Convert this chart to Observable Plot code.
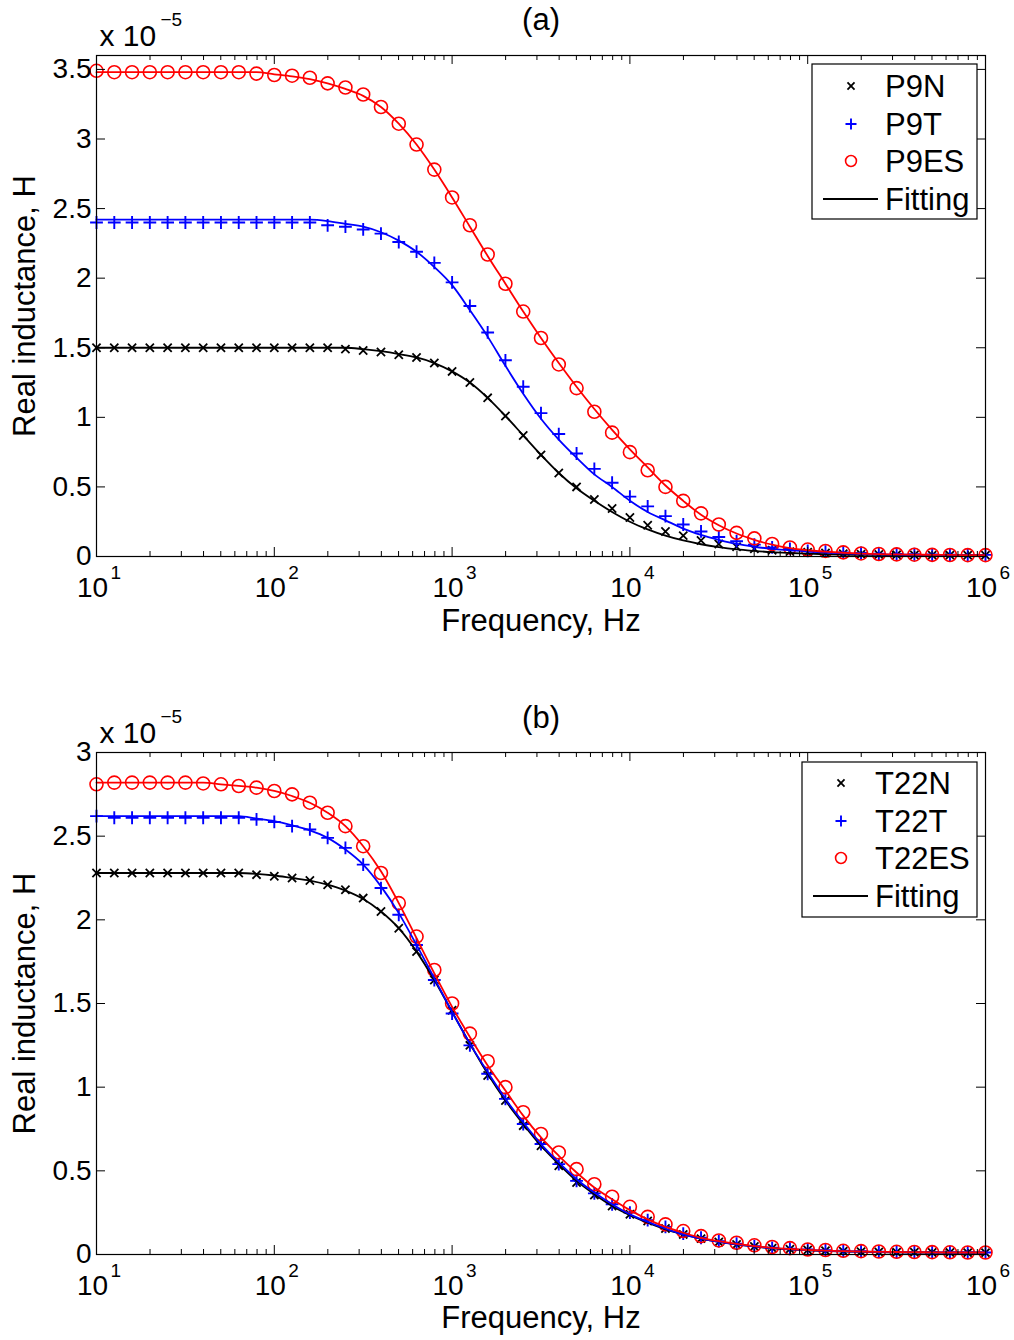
<!DOCTYPE html>
<html><head><meta charset="utf-8">
<script src="https://cdn.jsdelivr.net/npm/d3@7"></script>
<script src="https://cdn.jsdelivr.net/npm/@observablehq/plot@0.6"></script>
<style>body{margin:0;background:#fff;} #chart svg{display:block;}</style>
</head><body><div id="chart"></div>
<script>
// Frequencies (Hz), 10 points per decade
const freq = [10,12.59,15.85,19.95,25.12,31.62,39.81,50.12,63.10,79.43,
  100,125.9,158.5,199.5,251.2,316.2,398.1,501.2,631.0,794.3,
  1000,1259,1585,1995,2512,3162,3981,5012,6310,7943,
  10000,12589,15849,19953,25119,31623,39811,50119,63096,79433,
  100000,125893,158489,199526,251189,316228,398107,501187,630957,794328,
  1000000];

const xTicks = [10,100,1000,10000,100000,1000000];
const xExponents = ["1","2","3","4","5","6"];
const yTicksA = [0,0.5,1,1.5,2,2.5,3,3.5];
const yTicksB = [0,0.5,1,1.5,2,2.5,3];

// Panel (a), values in units of 1e-5 H
const p9nData = [1.50,1.50,1.50,1.50,1.50,1.50,1.50,1.50,1.50,1.50,1.50,1.50,1.50,
  1.50,1.49,1.48,1.47,1.45,1.43,1.39,1.33,1.25,1.14,1.01,0.87,0.73,0.60,0.50,0.41,0.345,
  0.28,0.225,0.18,0.15,0.115,0.09,0.07,0.055,0.045,0.035,0.03,0.025,0.02,0.016,0.014,0.012,
  0.011,0.010,0.010,0.009,0.009];
const p9nFit = [1.50,1.50,1.50,1.50,1.50,1.50,1.50,1.50,1.50,1.50,1.50,1.50,1.50,1.50,1.50,
  1.49,1.475,1.455,1.43,1.39,1.33,1.25,1.14,1.01,0.87,0.73,0.60,0.49,0.40,0.32,0.25,0.195,
  0.15,0.115,0.088,0.067,0.051,0.04,0.031,0.025,0.02,0.016,0.013,0.012,0.011,0.010,0.009,
  0.009,0.009,0.009,0.009];
const p9tData = [2.40,2.40,2.40,2.40,2.40,2.40,2.40,2.40,2.40,2.40,2.40,2.40,2.40,
  2.38,2.37,2.35,2.32,2.26,2.19,2.11,1.97,1.80,1.61,1.41,1.22,1.03,0.88,0.74,0.63,0.53,
  0.43,0.36,0.29,0.23,0.18,0.14,0.11,0.085,0.065,0.055,0.04,0.035,0.03,0.025,0.02,0.018,
  0.016,0.014,0.013,0.012,0.012];
const p9tFit = [2.42,2.42,2.42,2.42,2.42,2.42,2.42,2.42,2.42,2.42,2.42,2.42,2.42,
  2.41,2.39,2.37,2.33,2.27,2.19,2.08,1.95,1.77,1.58,1.37,1.17,0.99,0.84,0.71,0.59,0.50,
  0.40,0.32,0.26,0.20,0.155,0.12,0.09,0.07,0.055,0.045,0.035,0.028,0.022,0.018,0.015,0.013,
  0.012,0.011,0.010,0.010,0.010];
const p9esData = [3.49,3.48,3.48,3.48,3.48,3.48,3.48,3.48,3.48,
  3.47,3.46,3.455,3.44,3.40,3.37,3.32,3.23,3.11,2.96,2.78,2.58,2.38,2.17,1.96,1.76,1.57,
  1.38,1.21,1.04,0.89,0.75,0.62,0.50,0.40,0.31,0.23,0.17,0.13,0.09,0.065,0.05,0.04,0.03,
  0.022,0.018,0.015,0.013,0.012,0.011,0.010,0.010];
const p9esFit = [3.48,3.48,3.48,3.48,3.48,3.48,3.48,3.48,3.48,3.48,
  3.465,3.45,3.43,3.40,3.36,3.31,3.23,3.11,2.96,2.78,2.58,2.37,2.16,1.96,1.76,1.57,1.39,
  1.22,1.06,0.91,0.77,0.64,0.51,0.40,0.30,0.225,0.165,0.12,0.085,0.06,0.045,0.035,0.027,
  0.021,0.017,0.015,0.013,0.012,0.011,0.010,0.010];

// Panel (b)
const t22nData = [2.28,2.28,2.28,2.28,2.28,2.28,2.28,2.28,2.28,
  2.27,2.26,2.25,2.235,2.21,2.18,2.13,2.05,1.95,1.81,1.64,1.46,1.25,1.07,0.92,0.77,0.65,
  0.53,0.43,0.355,0.29,0.24,0.20,0.155,0.12,0.095,0.075,0.06,0.048,0.038,0.032,0.027,0.023,
  0.02,0.017,0.015,0.014,0.013,0.012,0.012,0.011,0.011];
const t22nFit = [2.28,2.28,2.28,2.28,2.28,2.28,2.28,2.28,2.28,
  2.275,2.265,2.25,2.235,2.21,2.175,2.125,2.05,1.95,1.81,1.64,1.45,1.26,1.08,0.92,0.78,0.65,
  0.54,0.44,0.36,0.29,0.235,0.19,0.15,0.12,0.095,0.075,0.06,0.047,0.037,0.03,0.025,0.021,
  0.018,0.016,0.014,0.013,0.012,0.012,0.011,0.011,0.011];
const t22tData = [2.62,2.61,2.61,2.61,2.61,2.61,2.61,2.61,2.61,
  2.60,2.585,2.56,2.54,2.49,2.43,2.33,2.19,2.03,1.85,1.64,1.44,1.25,1.08,0.93,0.78,0.66,
  0.54,0.44,0.365,0.30,0.25,0.205,0.165,0.125,0.10,0.08,0.065,0.05,0.04,0.035,0.03,0.025,
  0.022,0.019,0.017,0.015,0.014,0.013,0.012,0.012,0.012];
const t22tFit = [2.62,2.62,2.62,2.62,2.62,2.62,2.62,2.62,2.62,
  2.605,2.59,2.565,2.535,2.49,2.42,2.33,2.20,2.04,1.85,1.65,1.45,1.26,1.09,0.93,0.79,0.66,
  0.55,0.45,0.37,0.30,0.24,0.195,0.155,0.12,0.095,0.075,0.06,0.048,0.038,0.031,0.026,0.022,
  0.019,0.017,0.015,0.014,0.013,0.012,0.012,0.012,0.012];
const t22esData = [2.81,2.82,2.82,2.82,2.82,2.82,
  2.815,2.81,2.80,2.79,2.77,2.75,2.70,2.64,2.56,2.44,2.28,2.10,1.90,1.70,1.50,1.32,1.155,
  1.00,0.85,0.72,0.61,0.51,0.42,0.345,0.285,0.225,0.18,0.14,0.11,0.084,0.07,0.055,0.045,
  0.038,0.03,0.027,0.022,0.02,0.018,0.016,0.015,0.014,0.013,0.012,0.012];
const t22esFit = [2.82,2.82,2.82,2.82,2.82,2.82,2.82,
  2.81,2.80,2.79,2.77,2.74,2.70,2.64,2.56,2.44,2.29,2.10,1.89,1.68,1.48,1.30,1.13,0.98,0.83,
  0.70,0.59,0.49,0.40,0.33,0.265,0.21,0.165,0.13,0.10,0.08,0.063,0.05,0.04,0.033,0.027,
  0.023,0.02,0.018,0.016,0.015,0.014,0.013,0.012,0.012,0.012];

const FONT = "Liberation Sans, Arial, Helvetica, sans-serif";
const FS_TICK = 28, FS_LABEL = 31, FS_EXP = 19;

function panel(cfg) {
  const W = 1014, H = 670, mL = 96, mR = 29;
  const iw = W - mL - mR, ih = H - cfg.marginTop - cfg.marginBottom;
  const minor = [];
  for (const d of xTicks.slice(0, -1)) for (let m = 2; m <= 9; m++) minor.push(d * m);
  const marks = [];
  for (const s of cfg.series) {
    marks.push(Plot.dot(freq.map((f, i) => ({f, v: s.data[i]})),
      {x: "f", y: "v", symbol: s.symbol, r: s.r, stroke: s.color, strokeWidth: s.sw, fill: "none"}));
  }
  for (const s of cfg.series) {
    marks.push(Plot.line(freq.map((f, i) => ({f, v: s.fit[i]})),
      {x: "f", y: "v", stroke: s.color, strokeWidth: 1.8, curve: "monotone-x"}));
  }
  const T = {lineAnchor: "middle"};
  marks.push(
    Plot.frame({stroke: "black", strokeWidth: 1.2}),
    Plot.ruleX(xTicks, {x: d => d, insetTop: ih - 9, stroke: "black"}),
    Plot.ruleX(xTicks, {x: d => d, insetBottom: ih - 9, stroke: "black"}),
    Plot.ruleX(minor, {x: d => d, insetTop: ih - 5, stroke: "black"}),
    Plot.ruleX(minor, {x: d => d, insetBottom: ih - 5, stroke: "black"}),
    Plot.ruleY(cfg.yTicks, {y: d => d, insetRight: iw - 9, stroke: "black"}),
    Plot.ruleY(cfg.yTicks, {y: d => d, insetLeft: iw - 9, stroke: "black"}),
    Plot.text(xTicks, {...T, x: d => d, text: () => "10", frameAnchor: "bottom", textAnchor: "middle", dy: 32, dx: -4, fontSize: FS_TICK}),
    Plot.text(xTicks, {...T, x: d => d, text: (d, i) => xExponents[i], frameAnchor: "bottom", dy: 16, dx: 14, textAnchor: "start", fontSize: FS_EXP}),
    Plot.text(cfg.yTicks, {...T, y: d => d, text: d => String(d), frameAnchor: "left", textAnchor: "end", dx: -5, fontSize: FS_TICK}),
    Plot.text([cfg.title], {...T, frameAnchor: "top", textAnchor: "middle", dy: cfg.titleDy, fontSize: FS_LABEL}),
    Plot.text(["x 10"], {...T, frameAnchor: "top-left", textAnchor: "start", dx: 3, dy: cfg.x10Dy, fontSize: 30}),
    Plot.text(["\u22125"], {...T, frameAnchor: "top-left", textAnchor: "start", dx: 64, dy: cfg.x10Dy - 17, fontSize: FS_EXP}),
    Plot.text(["Frequency, Hz"], {...T, frameAnchor: "bottom", textAnchor: "middle", dy: cfg.xlabelDy, fontSize: FS_LABEL}),
    Plot.text(["Real inductance, H"], {...T, frameAnchor: "left", textAnchor: "middle", rotate: -90, dx: -71, fontSize: FS_LABEL})
  );
  const svg = Plot.plot({
    width: W, height: H,
    marginLeft: mL, marginRight: mR, marginTop: cfg.marginTop, marginBottom: cfg.marginBottom,
    x: {type: "log", domain: [10, 1000000], axis: null},
    y: {domain: [0, cfg.yMax], axis: null},
    style: {fontFamily: FONT, background: "white", color: "black", overflow: "visible"},
    marks
  });
  // legend
  const L = cfg.legend;
  const g = d3.select(svg).append("g").attr("font-family", FONT).attr("font-size", FS_LABEL).attr("text-anchor", "start");
  g.append("rect").attr("x", L.x).attr("y", L.y).attr("width", L.w).attr("height", L.h)
    .attr("fill", "white").attr("stroke", "black").attr("stroke-width", 1.2);
  cfg.series.forEach((s, i) => {
    const cy = L.rows[i];
    const sym = s.symbol === "circle" ? d3.symbolCircle : s.symbol === "plus" ? d3.symbolPlus : d3.symbolTimes;
    g.append("path").attr("d", d3.symbol(sym, s.r * s.r * Math.PI * (s.symbol === "circle" ? 0.7 : 0.75))())
      .attr("transform", `translate(${L.mx},${cy})`).attr("fill", "none").attr("stroke", s.color).attr("stroke-width", s.sw);
    g.append("text").attr("x", L.tx).attr("y", cy).attr("dy", "0.35em").attr("text-anchor", "start").text(s.name);
  });
  const cy = L.rows[3];
  g.append("line").attr("x1", L.lx1).attr("x2", L.lx2).attr("y1", cy).attr("y2", cy).attr("stroke", "black").attr("stroke-width", 1.8);
  g.append("text").attr("x", L.tx).attr("y", cy).attr("dy", "0.35em").attr("text-anchor", "start").text("Fitting");
  return svg;
}

const panelA = panel({
  title: "(a)", yMax: 3.6, yTicks: yTicksA, marginTop: 55, marginBottom: 114,
  titleDy: -35, x10Dy: -19, xlabelDy: 65,
  series: [
    {name: "P9N", data: p9nData, fit: p9nFit, color: "black", symbol: "times", r: 3.8, sw: 1.8},
    {name: "P9T", data: p9tData, fit: p9tFit, color: "blue", symbol: "plus", r: 4.2, sw: 1.9},
    {name: "P9ES", data: p9esData, fit: p9esFit, color: "red", symbol: "circle", r: 6.5, sw: 1.6}
  ],
  legend: {x: 812, y: 64, w: 165, h: 155, rows: [86, 124, 161, 199], mx: 851, tx: 885, lx1: 823, lx2: 878}
});
const panelB = panel({
  title: "(b)", yMax: 3, yTicks: yTicksB, marginTop: 82, marginBottom: 86,
  titleDy: -34, x10Dy: -19, xlabelDy: 64,
  series: [
    {name: "T22N", data: t22nData, fit: t22nFit, color: "black", symbol: "times", r: 3.8, sw: 1.8},
    {name: "T22T", data: t22tData, fit: t22tFit, color: "blue", symbol: "plus", r: 4.2, sw: 1.9},
    {name: "T22ES", data: t22esData, fit: t22esFit, color: "red", symbol: "circle", r: 6.5, sw: 1.6}
  ],
  legend: {x: 802, y: 92, w: 175, h: 155, rows: [113, 151, 188, 226], mx: 841, tx: 875, lx1: 813, lx2: 868}
});
document.getElementById("chart").append(panelA, panelB);
</script>
</body></html>
